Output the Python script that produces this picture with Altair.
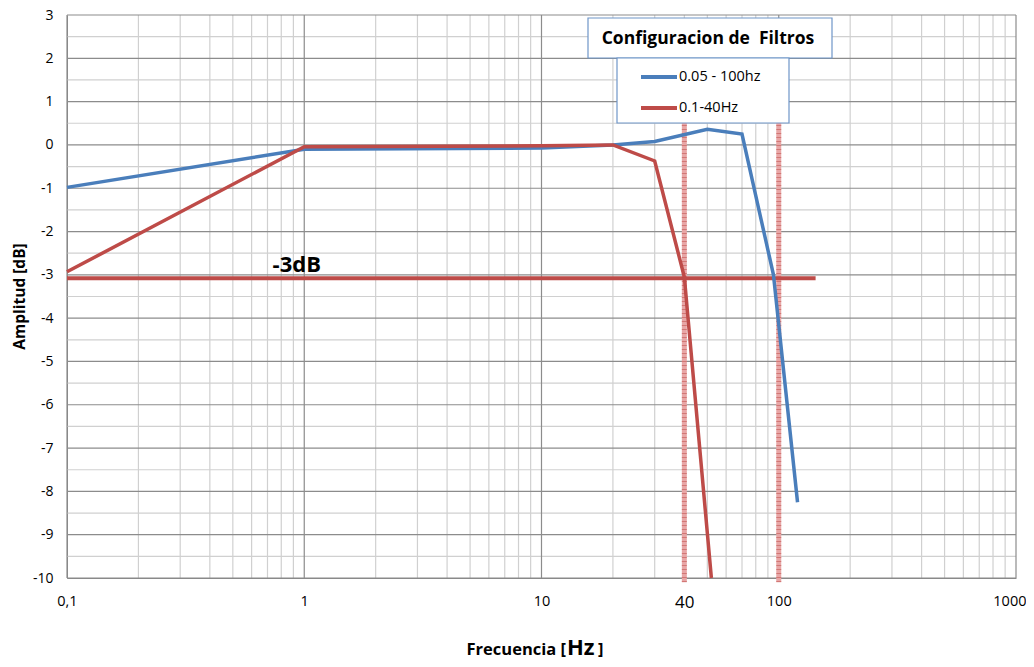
import altair as alt
import pandas as pd

# ---- data ----
blue_x = [0.1, 1, 10, 20, 30, 50, 70, 95, 120]
blue_y = [-0.98, -0.1, -0.07, 0.0, 0.08, 0.36, 0.25, -3.0, -8.25]
red_x = [0.1, 1, 10, 20, 30, 40, 52]
red_y = [-2.93, -0.04, -0.02, 0.0, -0.37, -3.05, -10.0]
series_names = ["0.05 - 100hz", "0.1-40Hz"]
series_colors = ["#4a7ebb", "#be4b48"]

ref3db_x = [0.1, 143]
ref3db_y = [-3.08, -3.08]
marker_x = [40, 100]
marker_top = [0.55, 0.55]
marker_bottom = [-10.1, -10.1]

x_major = [0.1, 1, 10, 100, 1000]
x_minor = [0.2, 0.3, 0.4, 0.5, 0.6, 0.7, 0.8, 0.9,
           2, 3, 4, 5, 6, 7, 8, 9,
           20, 30, 40, 50, 60, 70, 80, 90,
           200, 300, 400, 500, 600, 700, 800, 900]
y_major = [-10, -9, -8, -7, -6, -5, -4, -3, -2, -1, 0, 1, 2, 3]
y_minor = [-9.5, -8.5, -7.5, -6.5, -5.5, -4.5, -3.5, -2.5, -1.5, -0.5, 0.5, 1.5, 2.5]
x_tick_values = [0.1, 1, 10, 40, 100, 1000]

FONT = "Open Sans"
W, H = 949, 563

xs = alt.Scale(type="log", domain=[0.1, 1000], nice=False)
ys = alt.Scale(domain=[-10, 3], nice=False)

x_axis = alt.Axis(values=x_tick_values, grid=False, ticks=False, domain=True,
                  domainColor="#868686", title=None,
                  labelExpr="datum.value < 1 ? '0,1' : toString(datum.value)",
                  labelFontSize={"condition": {"test": "datum.value == 40", "value": 17}, "value": 14.5},
                  labelAlign={"condition": {"test": "datum.value == 1000", "value": "right"}, "value": "center"},
                  labelOffset={"condition": {"test": "datum.value == 1000", "value": 10}, "value": 0},
                  labelPadding=16, labelColor="#000000", labelFont=FONT, labelFlush=False)
y_axis = alt.Axis(values=y_major, grid=False, ticks=False, domain=True,
                  domainColor="#868686", title="Amplitud [dB]", titleFontSize=15.5,
                  titleFontWeight="bold", titleX=-48, titleY=281, titleAngle=270,
                  titleAlign="center", titleBaseline="middle", titleFont=FONT,
                  titleColor="#000000", labelExpr="toString(datum.value)",
                  labelFontSize=14, labelPadding=14, labelColor="#000000", labelFont=FONT)


def X(field="x"):
    return alt.X(f"{field}:Q", scale=xs, axis=x_axis)


def Y(field="y"):
    return alt.Y(f"{field}:Q", scale=ys, axis=y_axis)


minor_x = alt.Chart(pd.DataFrame({"x": x_minor})).mark_rule(color="#d0d0d0", strokeWidth=1.2).encode(x=X())
minor_y = alt.Chart(pd.DataFrame({"y": y_minor})).mark_rule(color="#d0d0d0", strokeWidth=1.2).encode(y=Y())
major_x = alt.Chart(pd.DataFrame({"x": x_major})).mark_rule(color="#8c8c8c", strokeWidth=1.2).encode(x=X())
major_y = alt.Chart(pd.DataFrame({"y": y_major})).mark_rule(color="#8c8c8c", strokeWidth=1.2).encode(y=Y())

mk = pd.DataFrame({"x": marker_x, "y": marker_top, "y2": marker_bottom})
markers_bg = alt.Chart(mk).mark_rule(color="#e8a6a6", strokeWidth=5).encode(x=X(), y=Y(), y2="y2:Q")
markers_fg = alt.Chart(mk).mark_rule(color="#c0504d", strokeWidth=5, opacity=0.55,
                                     strokeDash=[1, 3]).encode(x=X(), y=Y(), y2="y2:Q")

ref_df = pd.DataFrame({"x": ref3db_x, "y": ref3db_y})
ref_line = alt.Chart(ref_df).mark_line(color=series_colors[1], strokeWidth=4).encode(x=X(), y=Y())

red_df = pd.DataFrame({"x": red_x, "y": red_y})
blue_df = pd.DataFrame({"x": blue_x, "y": blue_y})
red_line = alt.Chart(red_df).mark_line(color=series_colors[1], strokeWidth=3.5).encode(
    x=X(), y=Y(), order="x:Q")
blue_line = alt.Chart(blue_df).mark_line(color=series_colors[0], strokeWidth=3.5).encode(
    x=X(), y=Y(), order="x:Q")

db_label = alt.Chart(pd.DataFrame({"x": [0.93], "y": [-2.93], "t": ["-3dB"]})).mark_text(
    font=FONT, fontSize=22, fontWeight="bold", align="center", baseline="alphabetic", color="#000000"
).encode(x=X(), y=Y(), text="t:N")

one = pd.DataFrame({"a": [0]})

# legend (title box + entries box)
leg_title_box = alt.Chart(one).mark_rect(fill="white", stroke="#6f96c8", strokeWidth=1.2).encode(
    x=alt.value(521), x2=alt.value(765), y=alt.value(3), y2=alt.value(43))
leg_title = alt.Chart(one).mark_text(font=FONT, fontSize=17.5, fontWeight="bold", align="center",
                                     baseline="alphabetic", color="#000000",
                                     text="Configuracion de\u00a0 Filtros").encode(
    x=alt.value(641), y=alt.value(29))
leg_box = alt.Chart(one).mark_rect(fill="white", stroke="#6f96c8", strokeWidth=1.2).encode(
    x=alt.value(550), x2=alt.value(722), y=alt.value(43), y2=alt.value(108))
legend_layers = [leg_title_box, leg_title, leg_box]
for i, (name, col) in enumerate(zip(series_names, series_colors)):
    yy = 62 + i * 31
    legend_layers.append(alt.Chart(one).mark_rule(color=col, strokeWidth=4).encode(
        x=alt.value(574), x2=alt.value(610), y=alt.value(yy)))
    legend_layers.append(alt.Chart(one).mark_text(font=FONT, fontSize=14.5, align="left",
                                                  baseline="middle", color="#000000", text=name).encode(
        x=alt.value(612), y=alt.value(yy)))

# x axis title with larger "Hz"
xt1 = alt.Chart(one).mark_text(font=FONT, fontSize=16.5, fontWeight="bold", align="right",
                               baseline="alphabetic", color="#000000", text="Frecuencia [").encode(
    x=alt.value(499), y=alt.value(640))
xt2 = alt.Chart(one).mark_text(font=FONT, fontSize=22, fontWeight="bold", align="left",
                               baseline="alphabetic", color="#000000", text="Hz").encode(
    x=alt.value(500), y=alt.value(640))
xt3 = alt.Chart(one).mark_text(font=FONT, fontSize=16.5, fontWeight="bold", align="left",
                               baseline="alphabetic", color="#000000", text="]").encode(
    x=alt.value(531), y=alt.value(640))

chart = alt.layer(
    minor_x, minor_y, major_x, major_y, markers_bg, markers_fg, ref_line,
    blue_line, red_line, db_label, *legend_layers, xt1, xt2, xt3
).properties(
    width=W, height=H,
    autosize=alt.AutoSizeParams(type="none"),
    padding={"left": 59, "top": 7, "right": 10, "bottom": 81},
    background="white",
).configure_view(stroke=None)

chart.save("out.html", embed_options={"renderer": "svg", "actions": False})
